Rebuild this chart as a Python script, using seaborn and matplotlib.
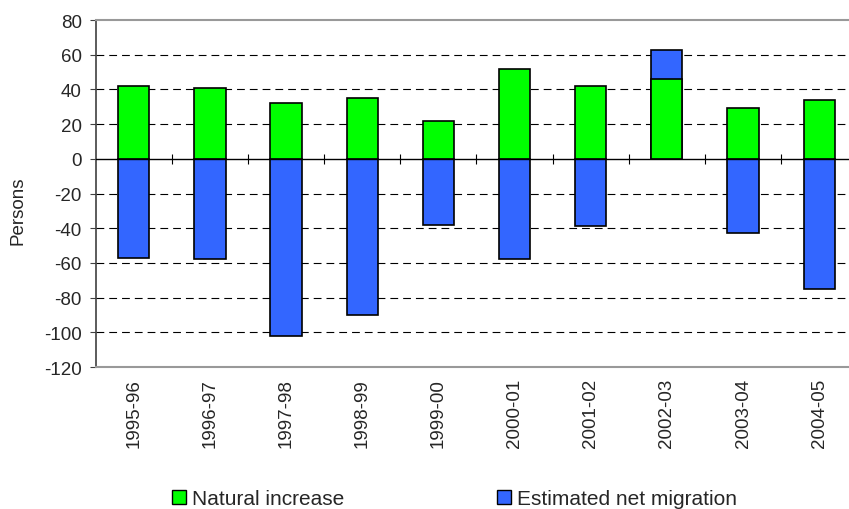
import pandas as pd
import seaborn as sns
import matplotlib.pyplot as plt
from matplotlib.patches import Patch

# Population change components, persons
periods = ["1995-96", "1996-97", "1997-98", "1998-99", "1999-00",
           "2000-01", "2001-02", "2002-03", "2003-04", "2004-05"]
natural_increase = [42, 41, 32, 35, 22, 52, 42, 46, 29, 34]
net_migration = [-57, -58, -102, -90, -38, -58, -39, 17, -43, -75]

df = pd.DataFrame({"period": periods,
                   "natural": natural_increase,
                   "migration": net_migration})
# positive migration sits on top of the natural increase bar
df["migration_top"] = [m if m < 0 else n + m for n, m in zip(df["natural"], df["migration"])]

green = "#00FF00"
blue = "#3366FF"

sns.set_style("white")
plt.rcParams["font.family"] = ["Liberation Sans", "DejaVu Sans"]
plt.rcParams["axes.unicode_minus"] = False

fig = plt.figure(figsize=(8.49, 5.10), dpi=100)
ax = fig.add_axes([0.1127, 0.2784, 0.897, 0.6804])

sns.barplot(data=df, x="period", y="migration_top", color=blue, saturation=1,
            width=0.41, edgecolor="black", linewidth=1.2, ax=ax)
sns.barplot(data=df, x="period", y="natural", color=green, saturation=1,
            width=0.41, edgecolor="black", linewidth=1.2, ax=ax)

ax.set_xlim(-0.5, 9.5)
ax.set_ylim(-120, 80)
ax.set_yticks(range(-120, 81, 20))
for v in range(-100, 80, 20):
    if v != 0:
        ax.axhline(v, color="black", lw=0.8, linestyle=(0, (7, 4.5)), zorder=0)
ax.axhline(0, color="black", lw=1, zorder=3)

# small marks between categories on the zero line
sec = ax.secondary_xaxis(0, transform=ax.transData)
sec.set_xticks([i + 0.5 for i in range(len(periods))])
sec.tick_params(axis="x", direction="inout", length=7.5, width=0.8,
                color="black", labelbottom=False)
sec.spines["bottom"].set_visible(False)

ax.tick_params(axis="x", length=0, pad=8, labelrotation=90, labelsize=13.5)
ax.tick_params(axis="y", direction="out", length=4, width=0.8, color="#404040",
               left=True, labelsize=13.5, pad=6)
ax.set_xlabel("")
ax.set_ylabel("")
fig.text(18 / 849, 1 - 211 / 510, "Persons", rotation=90, ha="center", va="center",
         fontsize=13.5)

for s in ["top", "bottom"]:
    ax.spines[s].set_color("#999999")
    ax.spines[s].set_linewidth(1.5)
ax.spines["left"].set_color("#404040")
ax.spines["left"].set_linewidth(1.2)
ax.spines["right"].set_visible(False)

handles = [Patch(facecolor=green, edgecolor="black", lw=1),
           Patch(facecolor=blue, edgecolor="black", lw=1)]
fig.legend(handles, ["Natural increase", "Estimated net migration"],
           loc="lower left", bbox_to_anchor=(172 / 849, 0.002), ncol=2, frameon=False,
           fontsize=15, handlelength=0.68, handleheight=0.68, handletextpad=0.3,
           columnspacing=7.3, borderpad=0, borderaxespad=0)

plt.savefig("out.png", dpi=100)
